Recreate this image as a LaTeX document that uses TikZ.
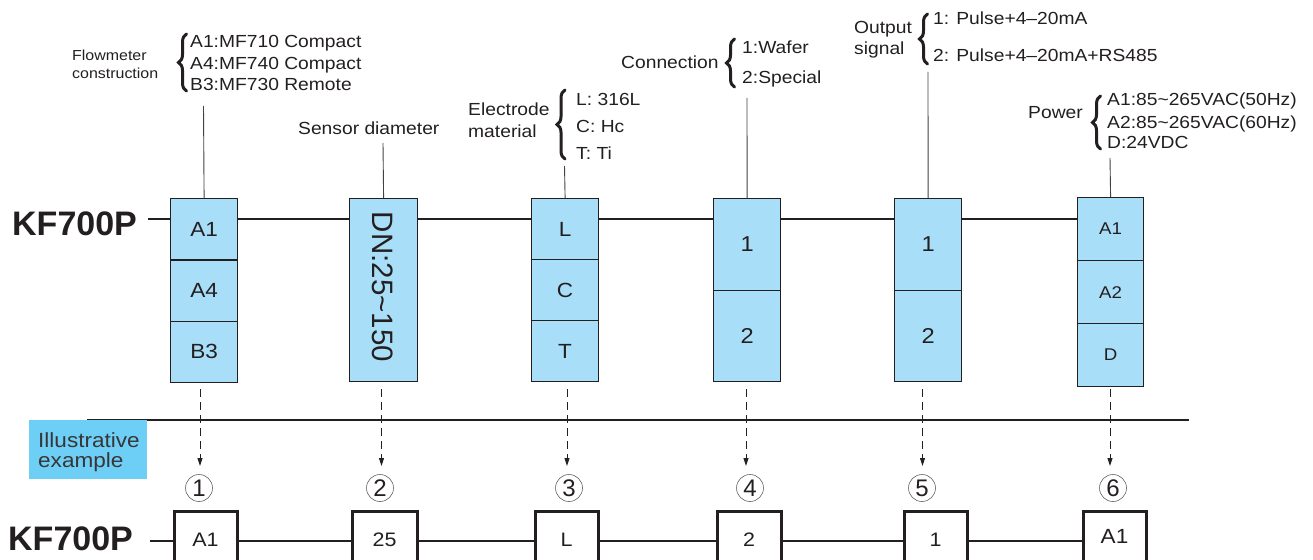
\documentclass[tikz,border=0pt]{standalone}
\usepackage{fontspec}
\setmainfont{Liberation Sans}[FakeStretch=1.1]
\newfontfamily\plainsans{Liberation Sans}
\usetikzlibrary{arrows.meta,decorations.pathreplacing}
\definecolor{ink}{HTML}{231F20}
\definecolor{cellblue}{HTML}{A9DEF8}
\definecolor{tagblue}{HTML}{6DCFF6}
\newcommand{\fsz}[1]{\fontsize{#1pt}{#1pt}\selectfont}
\begin{document}
\begin{tikzpicture}[x=1pt,y=-1pt,
  every node/.style={text=ink},
  cell/.style={draw=ink, fill=cellblue, line width=1.2pt, inner sep=0pt, minimum width=67pt, anchor=north west, font=\fsz{20.5}},
  obox/.style={draw=ink, fill=white, line width=3pt, inner sep=0pt, minimum width=63pt, minimum height=58pt, anchor=north west, font=\fsz{19.5}},
  lbl/.style={anchor=base west, inner sep=0pt, font=\fsz{17.5}},
  small/.style={anchor=base west, inner sep=0pt, font=\fsz{14.5}},
  brc/.style={draw=ink, line width=3pt, line cap=round, decorate, decoration={brace, amplitude=8pt}},
  mainline/.style={draw=ink, line width=1.2pt},
  leader/.style={draw=ink!85, line width=0.9pt},
  dasharrow/.style={draw=ink, line width=0.9pt, dash pattern=on 8pt off 5pt, -{Triangle[width=5pt,length=8pt]}},
  numc/.style={circle, draw=ink!70, line width=0.6pt, minimum size=27pt, inner sep=0pt, font=\plainsans\fsz{24}},
  title/.style={anchor=base west, inner sep=0pt, font=\plainsans\bfseries\fsz{34}},
  tagtext/.style={anchor=base west, inner sep=0pt, font=\fsz{20.5}, text=ink!90}]
\useasboundingbox (0,0) rectangle (1313,559);
\clip (0,0) rectangle (1313,559);

% ---------- top row boxes ----------
\node[cell, minimum height=61.33pt] (b1a) at (170,198) {A1};
\node[cell, minimum height=61.33pt] (b1b) at (170,259.33) {A4};
\node[cell, minimum height=61.33pt] (b1c) at (170,320.67) {B3};

\node[cell, minimum width=68pt, minimum height=183pt] (b2) at (349,198) {};
\node[rotate=-90, font=\plainsans\fsz{29.5}] (b2t) at (383,287) {DN:25\textasciitilde150};

\node[cell, minimum height=61pt] (b3a) at (531,198) {L};
\node[cell, minimum height=61pt] (b3b) at (531,259) {C};
\node[cell, minimum height=61pt] (b3c) at (531,320) {T};

\node[cell, minimum height=91.5pt, font=\fsz{21.5}] (b4a) at (713,198) {1};
\node[cell, minimum height=91.5pt, font=\fsz{21.5}] (b4b) at (713,289.5) {2};

\node[cell, minimum height=91.5pt, font=\fsz{21.5}] (b5a) at (894,198) {1};
\node[cell, minimum height=91.5pt, font=\fsz{21.5}] (b5b) at (894,289.5) {2};

\node[cell, minimum width=66pt, minimum height=63pt, font=\fsz{17}] (b6a) at (1077,197) {A1};
\node[cell, minimum width=66pt, minimum height=63pt, font=\fsz{17}] (b6b) at (1077,260) {A2};
\node[cell, minimum width=66pt, minimum height=63pt, font=\fsz{17}] (b6c) at (1077,323) {D};

% ---------- title and main line ----------
\node[title] (kf1) at (12,235) {KF700P};
\coordinate (m0) at (148,219);
\draw[mainline] (m0) -- (m0 -| b1a.west);
\draw[mainline] (b1a.east |- m0) -- (m0 -| b2.west);
\draw[mainline] (b2.east |- m0) -- (m0 -| b3a.west);
\draw[mainline] (b3a.east |- m0) -- (m0 -| b4a.west);
\draw[mainline] (b4a.east |- m0) -- (m0 -| b5a.west);
\draw[mainline] (b5a.east |- m0) -- (m0 -| b6a.west);

% ---------- leaders ----------
\coordinate (t1) at (203.5,106);
\coordinate (t2) at (383,143);
\coordinate (t3) at (564.5,166);
\coordinate (t4) at (747,98);
\coordinate (t5) at (928,72);
\coordinate (t6) at (1110,158);
\draw[leader] (b1a.north) -- (t1);
\draw[leader] (b2.north) -- (t2);
\draw[leader] (b3a.north) -- (t3);
\draw[leader] (b4a.north) -- (t4);
\draw[leader] (b5a.north) -- (t5);
\draw[leader] (b6a.north) -- (t6);

% ---------- labels ----------
\node[small] (fl1) at (72,60.7) {Flowmeter};
\node[small] (fl2) at (72,79) {construction};
\draw[brc] (186.5,91) -- (186.5,34);
\node[lbl] (i11) at (190,47.7) {A1:MF710 Compact};
\node[lbl] (i12) at (190,69.3) {A4:MF740 Compact};
\node[lbl] (i13) at (190,91) {B3:MF730 Remote};

\node[lbl] (sd) at (298,134) {Sensor diameter};

\node[lbl] (el1) at (468,115) {Electrode};
\node[lbl] (el2) at (468,137.7) {material};
\draw[brc] (565,159) -- (565,90);
\node[lbl] (i31) at (576,106) {L: 316L};
\node[lbl] (i32) at (576,132) {C: Hc};
\node[lbl] (i33) at (576,159) {T: Ti};

\node[lbl] (cn) at (621,68.3) {Connection};
\draw[brc] (734.5,87) -- (734.5,39);
\node[lbl] (i41) at (742,53.3) {1:Wafer};
\node[lbl] (i42) at (742,83.3) {2:Special};

\node[lbl] (os1) at (854,33.3) {Output};
\node[lbl] (os2) at (854,55) {signal};
\draw[brc] (927.5,64) -- (927.5,14);
\node[lbl] (i51) at (933,25) {1: Pulse+4–20mA};
\node[lbl] (i52) at (933,61.7) {2: Pulse+4–20mA+RS485};

\node[lbl] (pw) at (1028,118.3) {Power};
\draw[brc] (1100.5,149) -- (1100.5,96);
\node[lbl] (i61) at (1107,106) {A1:85\textasciitilde265VAC(50Hz)};
\node[lbl] (i62) at (1107,128.3) {A2:85\textasciitilde265VAC(60Hz)};
\node[lbl] (i63) at (1107,148.3) {D:24VDC};

% ---------- separator and tag ----------
\coordinate (sepL) at (87,420);
\coordinate (sepR) at (1189,420);
\draw[line width=1.2pt, draw=ink] (sepL) -- (sepR);
\node[fill=tagblue, minimum width=118pt, minimum height=59pt, inner sep=0pt, anchor=north west] (tag) at (29,420) {};
\node[tagtext] (tg1) at (38,447.5) {Illustrative};
\node[tagtext] (tg2) at (38,467.5) {example};

% ---------- circled numbers ----------
\node[numc] (c1) at (199,488) {1};
\node[numc] (c2) at (380,488) {2};
\node[numc] (c3) at (569,488) {3};
\node[numc] (c4) at (750,488) {4};
\node[numc] (c5) at (922,488) {5};
\node[numc] (c6) at (1113,488) {6};

% ---------- dashed arrows ----------
\coordinate (d1s) at (200,389);   \coordinate (d1e) at (200,466);
\coordinate (d2s) at (381.5,389); \coordinate (d2e) at (381.5,466);
\coordinate (d3s) at (567,389);   \coordinate (d3e) at (567,466);
\coordinate (d4s) at (746,389);   \coordinate (d4e) at (746,466);
\coordinate (d5s) at (922.5,389); \coordinate (d5e) at (922.5,466);
\coordinate (d6s) at (1110,389);  \coordinate (d6e) at (1110,466);
\draw[dasharrow] (d1s) -- (d1e);
\draw[dasharrow] (d2s) -- (d2e);
\draw[dasharrow] (d3s) -- (d3e);
\draw[dasharrow] (d4s) -- (d4e);
\draw[dasharrow] (d5s) -- (d5e);
\draw[dasharrow] (d6s) -- (d6e);

% ---------- bottom example row ----------
\node[obox] (e1) at (172.5,509.5) {A1};
\node[obox, minimum width=65pt] (e2) at (350.5,509.5) {25};
\node[obox] (e3) at (533.5,509.5) {L};
\node[obox, minimum width=64pt] (e4) at (715.5,509.5) {2};
\node[obox] (e5) at (902.5,509.5) {1};
\node[obox, minimum height=50pt, font=\fsz{20.5}] (e6) at (1081.5,509.5) {A1};
\node[title] (kf2) at (8,550) {KF700P};
\coordinate (n0) at (150,541);
\draw[mainline] (n0) -- (n0 -| e1.west);
\draw[mainline] (e1.east |- n0) -- (n0 -| e2.west);
\draw[mainline] (e2.east |- n0) -- (n0 -| e3.west);
\draw[mainline] (e3.east |- n0) -- (n0 -| e4.west);
\draw[mainline] (e4.east |- n0) -- (n0 -| e5.west);
\draw[mainline] (e5.east |- n0) -- (n0 -| e6.west);
\end{tikzpicture}
\end{document}
